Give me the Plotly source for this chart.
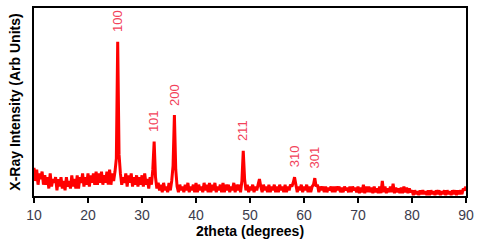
import numpy as np
import plotly.graph_objects as go

# 2theta grid (0.25 degree steps) and intensities
two_theta = np.arange(10, 90.01, 0.25)
intensity = [
    15, 8, 14, 6, 12, 9, 13, 6,
    11, 6, 10, 4, 12, 5, 9, 7,
    10, 3, 9, 5, 10, 4, 8, 3,
    10, 5, 8, 4, 11, 5, 9, 4,
    11, 4, 10, 7, 12, 5, 10, 6,
    12, 5, 11, 7, 12, 6, 13, 6,
    12, 7, 13, 6, 11, 7, 13, 6,
    14, 6, 12, 8, 13, 20, 82, 22,
    12, 6, 10, 7, 12, 5, 11, 7,
    12, 5, 10, 6, 11, 5, 10, 6,
    11, 5, 12, 6, 9, 4, 10, 6,
    14, 29, 10, 4, 7, 3, 6, 2,
    7, 3, 5, 2, 7, 3, 8, 16,
    43, 14, 5, 2, 6, 3, 5, 2,
    6, 3, 7, 2, 5, 3, 6, 2,
    7, 2, 6, 3, 5, 2, 7, 3,
    6, 2, 7, 2, 6, 3, 7, 2,
    5, 3, 6, 2, 7, 2, 6, 3,
    6, 2, 5, 3, 7, 2, 6, 3,
    6, 2, 8, 24, 9, 3, 6, 2,
    5, 3, 6, 2, 5, 3, 6, 9,
    5, 2, 6, 3, 5, 2, 6, 2,
    5, 3, 6, 2, 5, 2, 6, 3,
    5, 2, 6, 2, 5, 3, 6, 5,
    7, 10, 6, 2, 5, 3, 6, 2,
    5, 3, 6, 2, 5, 2, 5, 6,
    9.5, 5, 6, 2, 5, 3, 5, 2,
    5, 2, 4.5, 3, 5, 2, 5, 2,
    5, 3, 5, 2, 4.5, 2, 5, 3,
    4.5, 2, 5, 2, 5, 3, 4.5, 2,
    5, 1.5, 4.5, 2, 6, 1.5, 5, 2,
    5, 2, 4.5, 1.5, 5, 2, 4, 1.5,
    5, 1.5, 8, 2, 5, 1.5, 4, 2,
    5, 2, 6.5, 1.5, 4.5, 2, 4, 1.5,
    4.5, 1.5, 5, 2, 4.5, 1.5, 4, 2,
    3, 0.5, 3, 1, 2.5, 0.5, 3, 1,
    3, 1, 2.5, 0.5, 3, 0.5, 3, 1,
    2.5, 0.5, 3, 1, 3, 0.5, 2.5, 1,
    3, 0.5, 3, 1, 2.5, 0.5, 3, 1,
    3, 0.5, 3, 1, 3, 1, 4, 3,
    5,
]

# indexed reflections
peak_labels = ['100', '101', '200', '211', '310', '301']
peak_pos = [25.5, 32.25, 36.0, 48.75, 58.25, 62.0]
peak_height = [82, 29, 43, 24, 10, 9.5]

fig = go.Figure(go.Scatter(
    x=two_theta, y=intensity, mode='lines',
    line=dict(color='#ff0000', width=3),
    hoverinfo='skip'
))

for lab, px, ph in zip(peak_labels, peak_pos, peak_height):
    fig.add_annotation(
        x=px, y=ph + 4, text=lab, showarrow=False, textangle=-90,
        xanchor='center', yanchor='bottom',
        font=dict(size=13, color='#f2425a', family='Arial, Liberation Sans')
    )

fig.update_layout(
    width=480, height=242,
    margin=dict(l=34, r=11, t=6, b=46),
    paper_bgcolor='white', plot_bgcolor='white',
    showlegend=False,
    font=dict(family='Arial, Liberation Sans', color='black'),
    xaxis=dict(
        range=[10, 90], dtick=10, showgrid=False, zeroline=False,
        showline=True, linecolor='black', linewidth=2, mirror=True,
        ticks='outside', ticklen=5, tickwidth=1.5, tickcolor='black',
        tickfont=dict(size=14, color='#3c3c4c'),
        title=dict(text='<b>2theta (degrees)</b>', font=dict(size=14), standoff=2)
    ),
    yaxis=dict(
        range=[0, 100], showgrid=False, zeroline=False, showticklabels=False,
        showline=True, linecolor='black', linewidth=2, mirror=True,
        ticks='',
        title=dict(text='<b>X-Ray Intensity (Arb Units)</b>', font=dict(size=14), standoff=8)
    ),
)

# page body has a default 8px margin; drop it so the figure sits at the corner
fig.write_html("out.html", config={'displayModeBar': False},
               post_script="document.body.style.margin='0';")
